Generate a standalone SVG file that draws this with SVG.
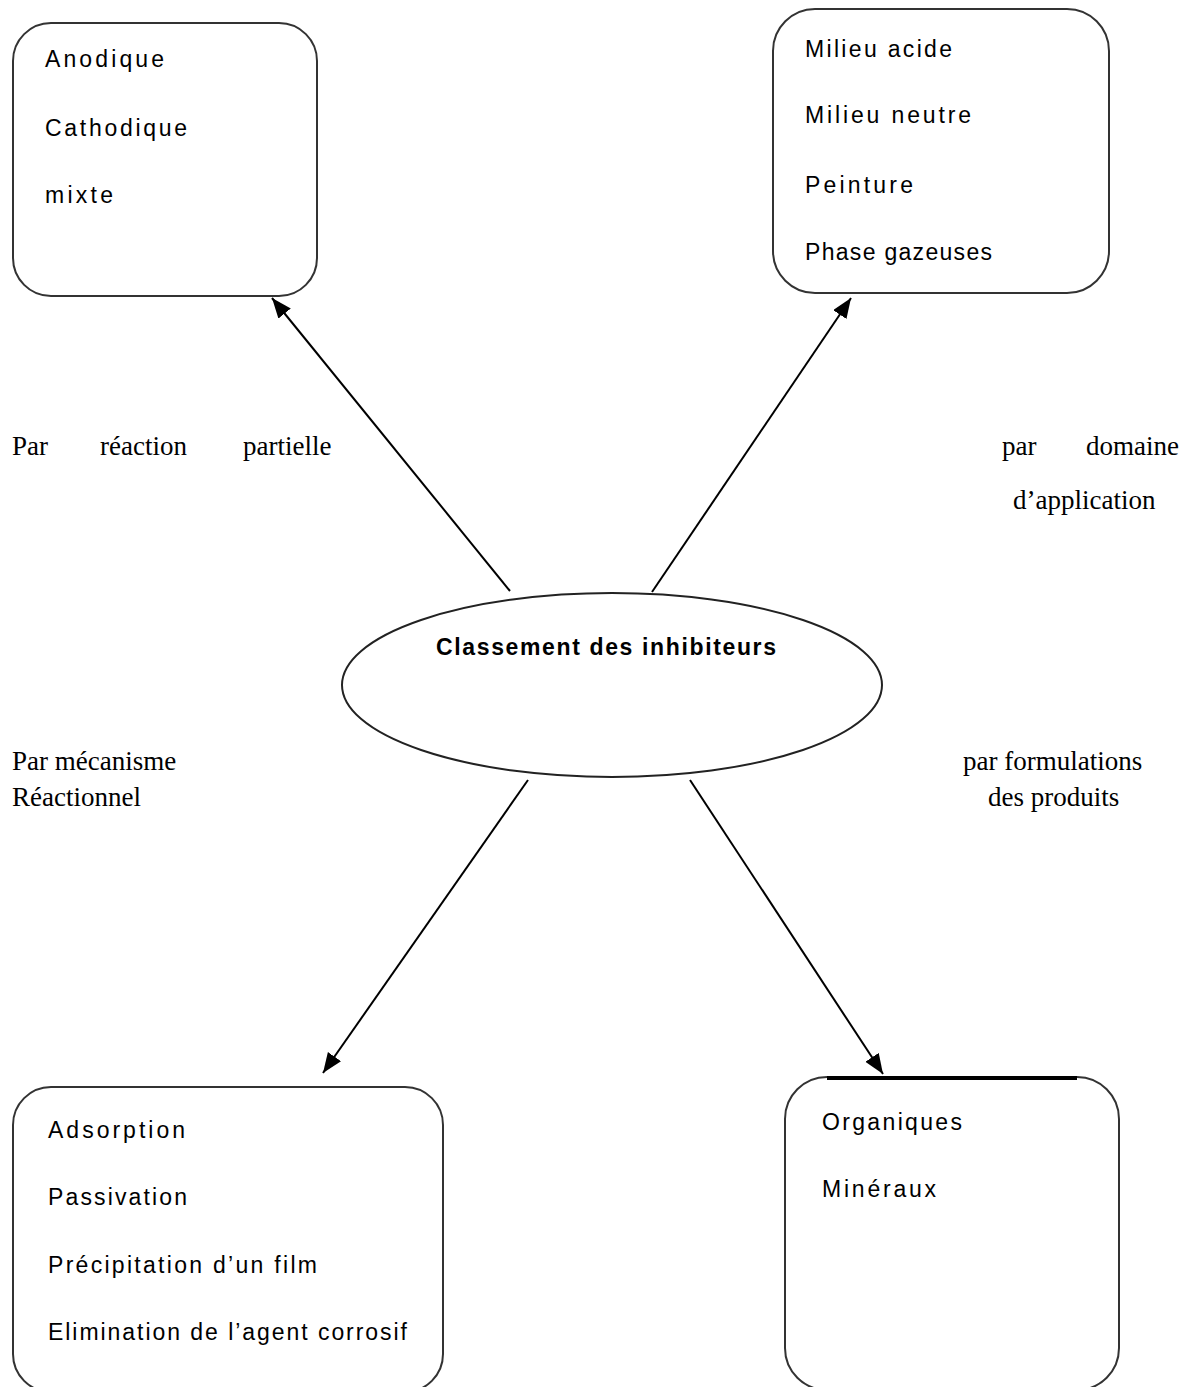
<svg xmlns="http://www.w3.org/2000/svg" width="1184" height="1387" viewBox="0 0 1184 1387">
<defs>
<style>
.box{fill:#fff;stroke:#333;stroke-width:2}
.t{font-family:"Liberation Sans",Arial,sans-serif;font-size:23px;fill:#000}
.tb{font-family:"Liberation Sans",Arial,sans-serif;font-size:23px;font-weight:bold;fill:#000}
.lab{font-family:"Liberation Serif","Times New Roman",serif;font-size:27px;fill:#000}
.con{stroke:#000;stroke-width:2;fill:none;marker-end:url(#ah)}
</style>
<marker id="ah" markerUnits="userSpaceOnUse" markerWidth="22" markerHeight="18" refX="20" refY="8" orient="auto">
<path d="M0,0 L20,8 L0,16 Z" fill="#000"/>
</marker>
</defs>
<rect width="1184" height="1387" fill="#fff"/>

<g id="connectors">
<line class="con" x1="510" y1="591" x2="272" y2="298"/>
<line class="con" x1="652" y1="592" x2="851" y2="298"/>
<line class="con" x1="528" y1="780" x2="323" y2="1073"/>
<line class="con" x1="690" y1="780" x2="883" y2="1074"/>
</g>

<g id="box-reaction">
<rect class="box" x="13" y="23" width="304" height="273" rx="38" ry="38"/>
<text class="t" x="45" y="67" textLength="119" lengthAdjust="spacing">Anodique</text>
<text class="t" x="45" y="136" textLength="142" lengthAdjust="spacing">Cathodique</text>
<text class="t" x="45" y="203" textLength="68" lengthAdjust="spacing">mixte</text>
</g>

<g id="box-domaine">
<rect class="box" x="773" y="9" width="336" height="284" rx="42" ry="42"/>
<text class="t" x="805" y="57" textLength="147" lengthAdjust="spacing">Milieu acide</text>
<text class="t" x="805" y="123" textLength="166" lengthAdjust="spacing">Milieu neutre</text>
<text class="t" x="805" y="193" textLength="108" lengthAdjust="spacing">Peinture</text>
<text class="t" x="805" y="260" textLength="187" lengthAdjust="spacing">Phase gazeuses</text>
</g>

<g id="center">
<ellipse cx="612" cy="685" rx="270" ry="92" fill="#fff" stroke="#222" stroke-width="2"/>
<text class="tb" x="436" y="655" textLength="340" lengthAdjust="spacing">Classement des inhibiteurs</text>
</g>

<g id="box-mecanisme">
<rect class="box" x="13" y="1087" width="430" height="305" rx="38" ry="38"/>
<text class="t" x="48" y="1138" textLength="137" lengthAdjust="spacing">Adsorption</text>
<text class="t" x="48" y="1205" textLength="139" lengthAdjust="spacing">Passivation</text>
<text class="t" x="48" y="1273" textLength="269" lengthAdjust="spacing">Précipitation d’un film</text>
<text class="t" x="48" y="1340" textLength="359" lengthAdjust="spacing">Elimination de l’agent corrosif</text>
</g>

<g id="box-formulation">
<rect class="box" x="785" y="1077" width="334" height="313" rx="42" ry="42"/>
<line x1="827" y1="1078" x2="1077" y2="1078" stroke="#000" stroke-width="4"/>
<text class="t" x="822" y="1130" textLength="140" lengthAdjust="spacing">Organiques</text>
<text class="t" x="822" y="1197" textLength="114" lengthAdjust="spacing">Minéraux</text>
</g>

<g id="labels">
<text class="lab" x="12" y="455">Par</text>
<text class="lab" x="100" y="455">réaction</text>
<text class="lab" x="243" y="455">partielle</text>
<text class="lab" x="1002" y="455">par</text>
<text class="lab" x="1086" y="455">domaine</text>
<text class="lab" x="1013" y="509">d’application</text>
<text class="lab" x="12" y="770">Par mécanisme</text>
<text class="lab" x="12" y="806">Réactionnel</text>
<text class="lab" x="963" y="770">par formulations</text>
<text class="lab" x="988" y="806">des produits</text>
</g>
</svg>
